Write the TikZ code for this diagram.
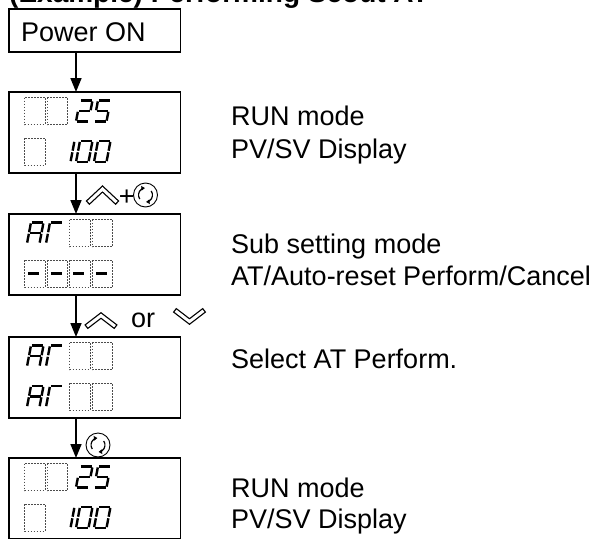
\documentclass[tikz,border=0pt]{standalone}
\usepackage{fontspec}
\setmainfont{Liberation Sans}
\usetikzlibrary{arrows.meta}
\newcommand\SegA{\draw[segst] (0.9,21)--(11.6,21);}
\newcommand\SegB{\draw[segst] (12.5,20.1)--(12.5,11.3);}
\newcommand\SegC{\draw[segst] (12.5,9.7)--(12.5,0.9);}
\newcommand\SegD{\draw[segst] (0.9,0)--(11.6,0);}
\newcommand\SegE{\draw[segst] (0,0.9)--(0,9.7);}
\newcommand\SegF{\draw[segst] (0,11.3)--(0,20.1);}
\newcommand\SegG{\draw[segst] (0.9,10.5)--(11.6,10.5);}
\newcommand\GTwo{\SegA\SegB\SegG\SegE\SegD}
\newcommand\GFive{\SegA\SegF\SegG\SegC\SegD}
\newcommand\GOne{\SegB\SegC}
\newcommand\GZero{\SegA\SegB\SegC\SegD\SegE\SegF}
\newcommand\GA{\SegA\SegB\SegC\SegE\SegF\SegG}
\newcommand\GT{\SegA\SegE\SegF}
\newcommand\Glyph[3]{\begin{scope}[shift={(#1,#2)},xslant=0.19]#3\end{scope}}
\newcommand\Cell[2]{\draw[cellbox] (#1,#2) rectangle ++(20.5,-27);}
% display showing 25 / 100, #1 = top y (positive)
\newcommand\RunDisp[1]{%
  \Cell{24.5}{-#1-5.5}\Cell{47}{-#1-5.5}%
  \Glyph{76}{-#1-29.5}{\GTwo}\Glyph{94}{-#1-29.5}{\GFive}%
  \Cell{24.5}{-#1-46}%
  \Glyph{58}{-#1-70}{\GOne}\Glyph{76}{-#1-70}{\GZero}\Glyph{94}{-#1-70}{\GZero}}
% row "AT" + two empty cells, #1 = cell top y (positive), #2 = glyph bottom y (positive)
\newcommand\RowAT[2]{%
  \Glyph{27}{-#2}{\GA}\Glyph{46}{-#2}{\GT}%
  \Cell{69.5}{-#1}\Cell{92}{-#1}}
\newcommand\ChevUp[3]{%
  \draw[line width=5.5pt, line join=miter] (#1-15,#2-#3)--(#1,#2)--(#1+15,#2-#3);
  \draw[white, line width=3pt, line join=miter, shorten <=1.3pt, shorten >=1.3pt] (#1-15,#2-#3)--(#1,#2)--(#1+15,#2-#3);}
\newcommand\ChevDown[3]{%
  \draw[line width=5.5pt, line join=miter] (#1-15,#2+#3)--(#1,#2)--(#1+15,#2+#3);
  \draw[white, line width=3pt, line join=miter, shorten <=1.3pt, shorten >=1.3pt] (#1-15,#2+#3)--(#1,#2)--(#1+15,#2+#3);}
\newcommand\RotSym[2]{%
  \draw[line width=0.9pt] (#1,#2) circle[radius=12];
  \draw[line width=1.2pt, -{Triangle[length=3.5pt,width=4.5pt]}] (#1,#2) ++(215:7) arc[start angle=215,end angle=95,radius=7];
  \draw[line width=1.2pt, -{Triangle[length=3.5pt,width=4.5pt]}] (#1,#2) ++(35:7) arc[start angle=35,end angle=-85,radius=7];}
\begin{document}
\begin{tikzpicture}[x=1pt,y=1pt,
  box/.style={draw, line width=1.8pt, inner sep=0pt, outer sep=0pt, minimum width=171.5pt},
  disp/.style={box, minimum height=81pt},
  cellbox/.style={draw=black!70, line width=0.9pt, dash pattern=on 1.8pt off 1.2pt},
  segst/.style={line width=2.4pt},
  flow/.style={line width=1.6pt, -{Triangle[width=11pt,length=14pt]}},
  lbl/.style={anchor=base west, inner sep=0pt, font=\fontsize{27}{30}\selectfont},
]
\useasboundingbox (0,0) rectangle (607,-538);
\clip (0,0) rectangle (607,-538);

\node[anchor=base west, inner sep=0pt, font=\bfseries\fontsize{28}{30}\selectfont] (title) at (9,-2) {(Example) Performing Scout AT};

% boxes
\node[box, minimum height=43pt, anchor=north west] (pw) at (9,-9) {};
\node[lbl] (pwt) at (21,-41.5) {Power ON};
\node[disp, anchor=north west] (d1) at (9,-92) {};
\node[disp, anchor=north west] (d2) at (9,-214) {};
\node[disp, anchor=north west] (d3) at (9,-337) {};
\node[disp, anchor=north west] (d4) at (9,-458) {};

% display contents
\RunDisp{92}
\RowAT{219.5}{243.5}
\foreach \cx/\gx in {24.5/25.5, 47/48, 69.5/70.5, 92/93} {
  \Cell{\cx}{-260}
  \Glyph{\gx}{-284}{\SegG}
}
\RowAT{342.5}{366.5}
\RowAT{383}{407}
\RunDisp{458}

% connectors
\coordinate (ax) at (76,0);
\draw[flow] (ax |- pw.south) -- (ax |- d1.north);
\draw[flow] (ax |- d1.south) -- (ax |- d2.north);
\draw[flow] (ax |- d2.south) -- (ax |- d3.north);
\draw[flow] (ax |- d3.south) -- (ax |- d4.north);

% key labels
\ChevUp{102.5}{-189}{14}
\node[anchor=base west, inner sep=0pt, font=\fontsize{27}{30}\selectfont] (plus) at (118.6,-205.2) {+};
\RotSym{145.5}{-195}
\ChevUp{101}{-315.5}{11.5}
\node[lbl] (or) at (131,-327) {or};
\ChevDown{189.5}{-321.5}{11.5}
\RotSym{98}{-445}

% descriptions
\node[lbl] (t1a) at (231,-125) {RUN mode};
\node[lbl] (t1b) at (231,-158) {PV/SV Display};
\node[lbl] (t2a) at (231,-253) {Sub setting mode};
\node[lbl] (t2b) at (231,-285) {AT/Auto-reset Perform/Cancel};
\node[lbl] (t3a) at (231,-368) {Select AT Perform.};
\node[lbl] (t4a) at (231,-497) {RUN mode};
\node[lbl] (t4b) at (231,-528) {PV/SV Display};
\end{tikzpicture}
\end{document}
